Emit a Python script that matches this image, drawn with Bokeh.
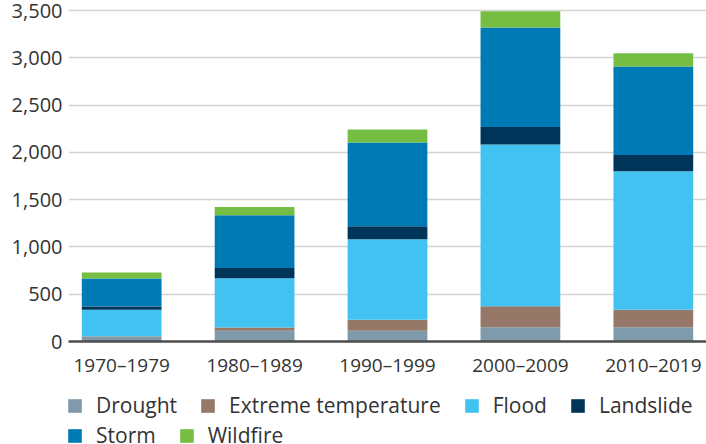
from bokeh.plotting import figure
from bokeh.layouts import column
from bokeh.models import (ColumnDataSource, FactorRange, Range1d, FixedTicker,
                          NumeralTickFormatter, Legend, LegendItem)
from bokeh.embed import file_html
from bokeh.resources import INLINE

# Disaster counts by decade
decades = ["1970\u20131979", "1980\u20131989", "1990\u20131999", "2000\u20132009", "2010\u20132019"]
drought = [50, 113, 113, 150, 150]
extreme_temperature = [6, 35, 116, 222, 185]
flood = [279, 521, 852, 1712, 1464]
landslide = [35, 109, 137, 183, 172]
storm = [295, 557, 887, 1053, 937]
wildfire = [64, 87, 138, 172, 141]

series = ["Drought", "Extreme temperature", "Flood", "Landslide", "Storm", "Wildfire"]
colors = ["#7f9aab", "#967868", "#41c2f0", "#003459", "#007ab5", "#76be43"]
y_ticks = [0, 500, 1000, 1500, 2000, 2500, 3000, 3500]

FONT = "Open Sans"
TEXT_COLOR = "#333333"

source = ColumnDataSource(data={
    "decade": decades,
    "Drought": drought,
    "Extreme temperature": extreme_temperature,
    "Flood": flood,
    "Landslide": landslide,
    "Storm": storm,
    "Wildfire": wildfire,
})

# Trim the outer half-gaps so the end bars sit close to the frame edges
x_range = FactorRange(factors=decades, range_padding=-0.1, range_padding_units="absolute")

p = figure(
    width=706, height=380,
    x_range=x_range, y_range=Range1d(0, 3553),
    output_backend="svg", toolbar_location=None,
    min_border_left=68, min_border_right=0, min_border_top=5, min_border_bottom=38,
    outline_line_color=None, background_fill_color="white", border_fill_color="white",
)

p.vbar_stack(series, x="decade", width=0.6, color=colors, line_color=None, source=source)

# Axes
p.xgrid.grid_line_color = None
p.ygrid.grid_line_color = "#d4d4d4"
p.ygrid.grid_line_width = 1.5
p.yaxis.ticker = FixedTicker(ticks=y_ticks)
p.yaxis.formatter = NumeralTickFormatter(format="0,0")
p.yaxis.axis_line_color = None
p.yaxis.major_tick_line_color = None
p.yaxis.minor_tick_line_color = None
p.yaxis.major_label_standoff = 0
p.yaxis.major_label_text_font_size = "20px"

p.xaxis.axis_line_color = "#4d4d4d"
p.xaxis.axis_line_width = 2.5
p.xaxis.major_tick_line_color = None
p.xaxis.minor_tick_line_color = None
p.xaxis.major_label_standoff = 4
p.xaxis.major_label_text_font_size = "19px"

for ax in (p.xaxis[0], p.yaxis[0]):
    ax.major_label_text_font = FONT
    ax.major_label_text_color = TEXT_COLOR

# Legend strip under the chart; each key swatch borrows a zero-height bar
key = figure(
    width=706, height=64, x_range=Range1d(0, 1), y_range=Range1d(0, 1),
    x_axis_location=None, y_axis_location=None,
    output_backend="svg", toolbar_location=None,
    min_border=0, outline_line_color=None,
    background_fill_color="white", border_fill_color="white",
)
key.grid.visible = False

swatches = {}
for name, color in zip(series, colors):
    swatches[name] = key.vbar(x=[0.5], top=[0], bottom=[0], width=0,
                              fill_color=color, line_color=None)


def make_legend(names, loc):
    items = [LegendItem(label=n, renderers=[swatches[n]]) for n in names]
    leg = Legend(
        items=items, orientation="horizontal", location=loc,
        glyph_width=17, glyph_height=17, label_standoff=13, spacing=22,
        padding=0, margin=0,
        label_text_font=FONT, label_text_font_size="21px", label_text_color=TEXT_COLOR,
        border_line_color=None, background_fill_alpha=0,
    )
    key.add_layout(leg, "center")


make_legend(["Drought", "Extreme temperature", "Flood", "Landslide"], (-2, 25))
make_legend(["Storm", "Wildfire"], (-2, -5))

layout = column(p, key, spacing=0)

open("out.html", "w").write(file_html(layout, INLINE))
